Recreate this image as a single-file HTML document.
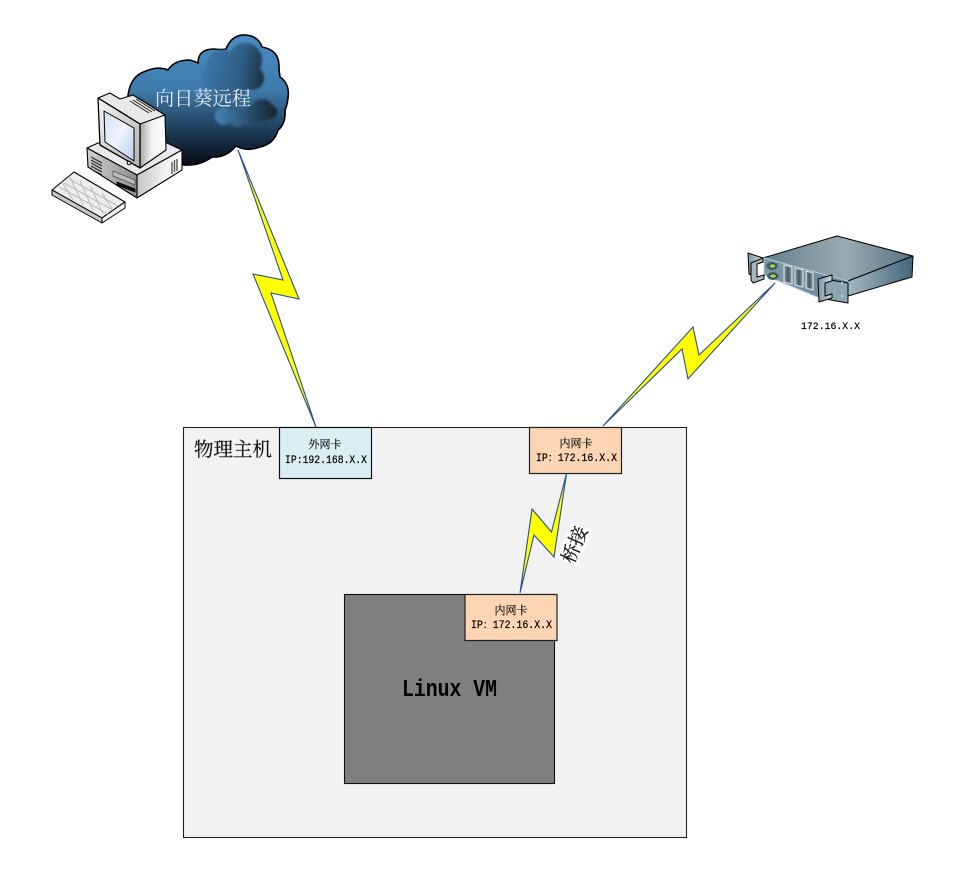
<!DOCTYPE html>
<html lang="zh">
<head>
<meta charset="utf-8">
<title>Network diagram</title>
<style>
html,body{margin:0;padding:0;background:#fff}
svg{display:block}
.cn{font-family:"Liberation Serif","Noto Serif CJK SC",serif}
.m{font-family:"Liberation Mono","Noto Serif CJK SC",monospace;fill:#000;stroke:#000;stroke-width:.2}
.c{fill:#111;stroke:#111;stroke-width:.2}
</style>
</head>
<body>
<svg width="969" height="873" viewBox="0 0 969 873" xmlns="http://www.w3.org/2000/svg" class="cn">
<defs>
<linearGradient id="cl" x1="0" y1="0" x2="0" y2="1">
<stop offset="0" stop-color="#4a8cc2"/><stop offset=".42" stop-color="#3f7cad"/><stop offset=".72" stop-color="#1f3f5c"/><stop offset="1" stop-color="#060b10"/>
</linearGradient>
<linearGradient id="b1" gradientUnits="userSpaceOnUse" x1="205" y1="75" x2="263" y2="85">
<stop offset="0" stop-color="#3a75a5"/><stop offset=".6" stop-color="#2f5d83"/><stop offset="1" stop-color="#182e40"/>
</linearGradient>
<linearGradient id="b2" gradientUnits="userSpaceOnUse" x1="214" y1="112" x2="278" y2="112">
<stop offset="0" stop-color="#4585b9"/><stop offset=".5" stop-color="#2b5473"/><stop offset="1" stop-color="#14202b"/>
</linearGradient>
<linearGradient id="scr" x1="0" y1="0" x2="1" y2="1">
<stop offset="0" stop-color="#d5e0f3"/><stop offset=".5" stop-color="#eef2fb"/><stop offset="1" stop-color="#bccdea"/>
</linearGradient>
<linearGradient id="g1" x1="0" y1="0" x2="1" y2="1">
<stop offset="0" stop-color="#f6f6f6"/><stop offset="1" stop-color="#b0b0b0"/>
</linearGradient>
<linearGradient id="g2" x1="0" y1="0" x2="1" y2="0">
<stop offset="0" stop-color="#a8a8a8"/><stop offset=".45" stop-color="#f2f2f2"/><stop offset="1" stop-color="#fff"/>
</linearGradient>
<linearGradient id="g3" x1="0" y1="0" x2="1" y2="0">
<stop offset="0" stop-color="#c4c4c4"/><stop offset=".6" stop-color="#f0f0f0"/><stop offset="1" stop-color="#fff"/>
</linearGradient>
<linearGradient id="g4" x1="0" y1="0" x2="1" y2="0">
<stop offset="0" stop-color="#cfcfcf"/><stop offset="1" stop-color="#8f8f8f"/>
</linearGradient>
<linearGradient id="st" x1="0" y1="0" x2="1" y2="0">
<stop offset="0" stop-color="#64808c"/><stop offset=".55" stop-color="#9aaab1"/><stop offset="1" stop-color="#567484"/>
</linearGradient>
<linearGradient id="ss" x1="0" y1="0" x2="1" y2="0">
<stop offset="0" stop-color="#a3b9c3"/><stop offset="1" stop-color="#436578"/>
</linearGradient>
<linearGradient id="sf" x1="0" y1="0" x2="1" y2="0">
<stop offset="0" stop-color="#7f98a6"/><stop offset="1" stop-color="#6a8a9b"/>
</linearGradient>
<linearGradient id="ear" x1="0" y1="0" x2="1" y2="0">
<stop offset="0" stop-color="#7e94a0"/><stop offset="1" stop-color="#cfdbe0"/>
</linearGradient>
<linearGradient id="sl" x1="0" y1="0" x2="1" y2="0">
<stop offset="0" stop-color="#8b9da6"/><stop offset=".5" stop-color="#47585f"/><stop offset="1" stop-color="#96a7ae"/>
</linearGradient>
<filter id="bl" x="-10%" y="-10%" width="120%" height="120%"><feGaussianBlur stdDeviation="1.2"/></filter>
<filter id="sm" x="-5%" y="-5%" width="110%" height="110%"><feGaussianBlur stdDeviation=".35"/></filter>
</defs>

<!-- Cloud -->
<path d="M128 96 Q130 76 146 71 Q158 66 168 70 Q174 60 190 60 Q196 62 198 63 Q198 49 214 49 Q222 50 226 49 Q232 34 246 35 Q258 36 262 47 Q279 50 279 66 Q279 72 280 77 Q290 84 288 98 Q287 106 285 110 Q286 124 278 130 Q274 144 260 147 Q246 152 236 146 Q226 158 212 157 Q200 166 184 165 L150 160 L128 120 Z" fill="url(#cl)" stroke="#000" stroke-width="1.6"/>
<g filter="url(#bl)">
  <g fill="url(#b1)">
    <circle cx="222" cy="66" r="16"/><circle cx="245" cy="60" r="17"/><circle cx="214" cy="78" r="13"/><circle cx="252" cy="78" r="12"/><circle cx="232" cy="84" r="15"/>
  </g>
  <g fill="url(#b2)">
    <circle cx="224" cy="116" r="9"/><circle cx="238" cy="118" r="9"/><circle cx="250" cy="116" r="10"/><circle cx="262" cy="110" r="11"/><circle cx="270" cy="112" r="7"/>
  </g>
</g>

<!-- Cloud text -->
<text x="155" y="105" font-size="19.2" fill="#e4e9f0">向日葵远程</text>

<!-- Computer -->
<g stroke="#000" stroke-linejoin="round">
  <!-- base -->
  <polygon points="87,148 98,143 167,143 182,150 137,175" fill="#e9e9e9" stroke-width="1.1"/>
  <polygon points="87,148 137,175 137,198 88,167" fill="url(#g4)" stroke-width="1.1"/>
  <polygon points="137,175 182,150 182,170 137,198" fill="url(#g3)" stroke-width="1.1"/>
  <g stroke="#222" stroke-width="1" fill="none">
    <path d="M91 157 L102 163 M91 160 L102 166 M91 163 L102 169 M91 166 L102 172 M91 169 L102 175"/>
    <path d="M172 162 V174 M174.500 160 V172 M177 159 V171" stroke="#555" stroke-width="1.4"/>
  </g>
  <polygon points="113,171 135,180 135,185 113,176" fill="#bbb" stroke="#444" stroke-width=".7"/>
  <polygon points="117,182 135,189 135,192 117,185" fill="#111" stroke-width=".8"/>
  <!-- monitor -->
  <polygon points="98,98 110,93 120,99 133,95 165,115 145,123 140,124" fill="#e8e8e8" stroke-width="1.1"/>
  <polygon points="140,124 165,115 166,150 140,168" fill="url(#g2)" stroke-width="1.1"/>
  <g stroke="#1a1a1a" stroke-width="1" fill="none">
    <path d="M133 100 L152 112 M136 99 L155 111 M139 98 L158 110 M130 101 L149 113"/>
  </g>
  <polygon points="98,98 140,124 140,168 100,145" fill="url(#g1)" stroke-width="1.3"/>
  <polygon points="104,111 134,128 134,161 105,142" fill="url(#scr)" stroke-width="1"/>
  <circle cx="129" cy="163" r="1.8" fill="#ddd" stroke-width="1"/>
  <!-- keyboard -->
  <polygon points="52,190 74,172 125,202 102,218" fill="#ededed" stroke-width="1.1"/>
  <polygon points="52,190 102,218 102,223 52,195" fill="#c8c8c8" stroke-width="1"/>
  <polygon points="102,218 125,202 125,208 102,223" fill="#f2f2f2" stroke-width="1"/>
  <g stroke="#bdbdbd" stroke-width="1" fill="none" filter="url(#sm)">
    <path d="M59 187 L108 214 M64 183 L113 210 M69 179 L118 206"/>
    <path d="M62 182 L73 200 M70 177 L83 205 M80 181 L93 210 M91 187 L103 214 M102 193 L113 210"/>
  </g>
</g>

<!-- Server -->
<g stroke="#000" stroke-width="1" stroke-linejoin="round">
  <polygon points="763,258 837,236 913,256 848,281" fill="url(#st)"/>
  <polygon points="848,281 913,256 912,277 848,296" fill="url(#ss)"/>
  <polygon points="764,258 848,281 848,297 817,297 764,275" fill="url(#sf)" stroke="#b9d3de"/>
  <!-- left ear -->
  <polygon points="748,253 763,258 763,262 757,264 757,276 760,279 749,274" fill="url(#ear)"/>
  <polygon points="751,263 763,258 763,262 757,264 757,277 764,275 764,279 753,283 751,280" fill="#a5b8c1"/>
  <!-- right ear -->
  <polygon points="825,279 848,283 848,303 825,299" fill="#8ea6b2" stroke="#000"/>
  <polygon points="818,279 832,275 832,281 825,283 825,296 832,294 832,298 819,302" fill="url(#ear)"/>
</g>
<g>
  <ellipse cx="772" cy="266" rx="6" ry="4" fill="#4d6a78"/>
  <ellipse cx="772.500" cy="266" rx="3.500" ry="2.200" fill="#9ccf6a" stroke="#111" stroke-width=".6"/>
  <ellipse cx="773" cy="276" rx="6" ry="4" fill="#4d6a78"/>
  <ellipse cx="773" cy="276" rx="3.500" ry="2.200" fill="#9ccf6a" stroke="#111" stroke-width=".6"/>
  <polygon points="784,265 792,267 792,284 784,282" fill="url(#sl)" stroke="#dfe8ec" stroke-width="1"/>
  <polygon points="795,268 803,270 803,287 795,285" fill="url(#sl)" stroke="#dfe8ec" stroke-width="1"/>
  <polygon points="806,271 813,273 813,290 806,288" fill="url(#sl)" stroke="#dfe8ec" stroke-width="1"/>
  <circle cx="842" cy="283" r="1" fill="#dde"/>
  <circle cx="842" cy="296" r="1" fill="#dde"/>
</g>
<text class="m" x="801" y="329" font-size="10" textLength="59" lengthAdjust="spacingAndGlyphs">172.16.X.X</text>

<!-- Physical host -->
<rect x="183.500" y="427.500" width="503" height="410" fill="#f2f2f2" stroke="#222" stroke-width="1.100"/>
<text class="c" x="194" y="456" font-size="19.500">物理主机</text>

<!-- Lightning -->
<g fill="#ffff00" stroke="#2a5090" stroke-width="1.100" stroke-linejoin="miter">
  <polygon points="238,150 299,299 271,293 316,427 253,274 283,280"/>
  <polygon points="775,283 699,355 693,327 603,426 682,349 688,379"/>
</g>

<!-- NIC external -->
<rect x="279.500" y="427.500" width="92" height="51" fill="#daeef3" stroke="#111" stroke-width="1.200"/>
<text class="c" x="325" y="448" font-size="11" text-anchor="middle">外网卡</text>
<text class="m" x="285" y="463" font-size="11" textLength="82" lengthAdjust="spacingAndGlyphs">IP:192.168.X.X</text>

<!-- NIC internal -->
<rect x="529.500" y="427.500" width="92" height="46" fill="#fcd5b5" stroke="#222" stroke-width="1.200"/>
<text class="c" x="576" y="447" font-size="11" text-anchor="middle">内网卡</text>
<text class="m" x="536" y="461" font-size="11" textLength="81" lengthAdjust="spacingAndGlyphs">IP：172.16.X.X</text>

<!-- VM -->
<rect x="344.500" y="594.500" width="210" height="189" fill="#7f7f7f" stroke="#111" stroke-width="1.100"/>
<text x="402" y="696" font-family="Liberation Mono, monospace" font-weight="bold" font-size="24" fill="#000" textLength="95" lengthAdjust="spacingAndGlyphs">Linux VM</text>
<rect x="465" y="594.500" width="92" height="46" fill="#fcd5b5" stroke="#222" stroke-width="1.200"/>
<text class="c" x="511" y="614" font-size="11" text-anchor="middle">内网卡</text>
<text class="m" x="471" y="628" font-size="11" textLength="81" lengthAdjust="spacingAndGlyphs">IP：172.16.X.X</text>

<!-- Bridge lightning -->
<polygon points="566.500,473.500 551.500,532 532,509 520,593 534,535 554,557" fill="#ffff00" stroke="#2a5090" stroke-width="1.100"/>

<!-- Bridge label -->
<g transform="rotate(-67 574.300 544.600)">
  <rect x="555" y="533.500" width="39" height="22" fill="#fff"/>
  <text class="c" x="574.300" y="551.500" font-size="19" text-anchor="middle">桥接</text>
</g>
</svg>
</body>
</html>
